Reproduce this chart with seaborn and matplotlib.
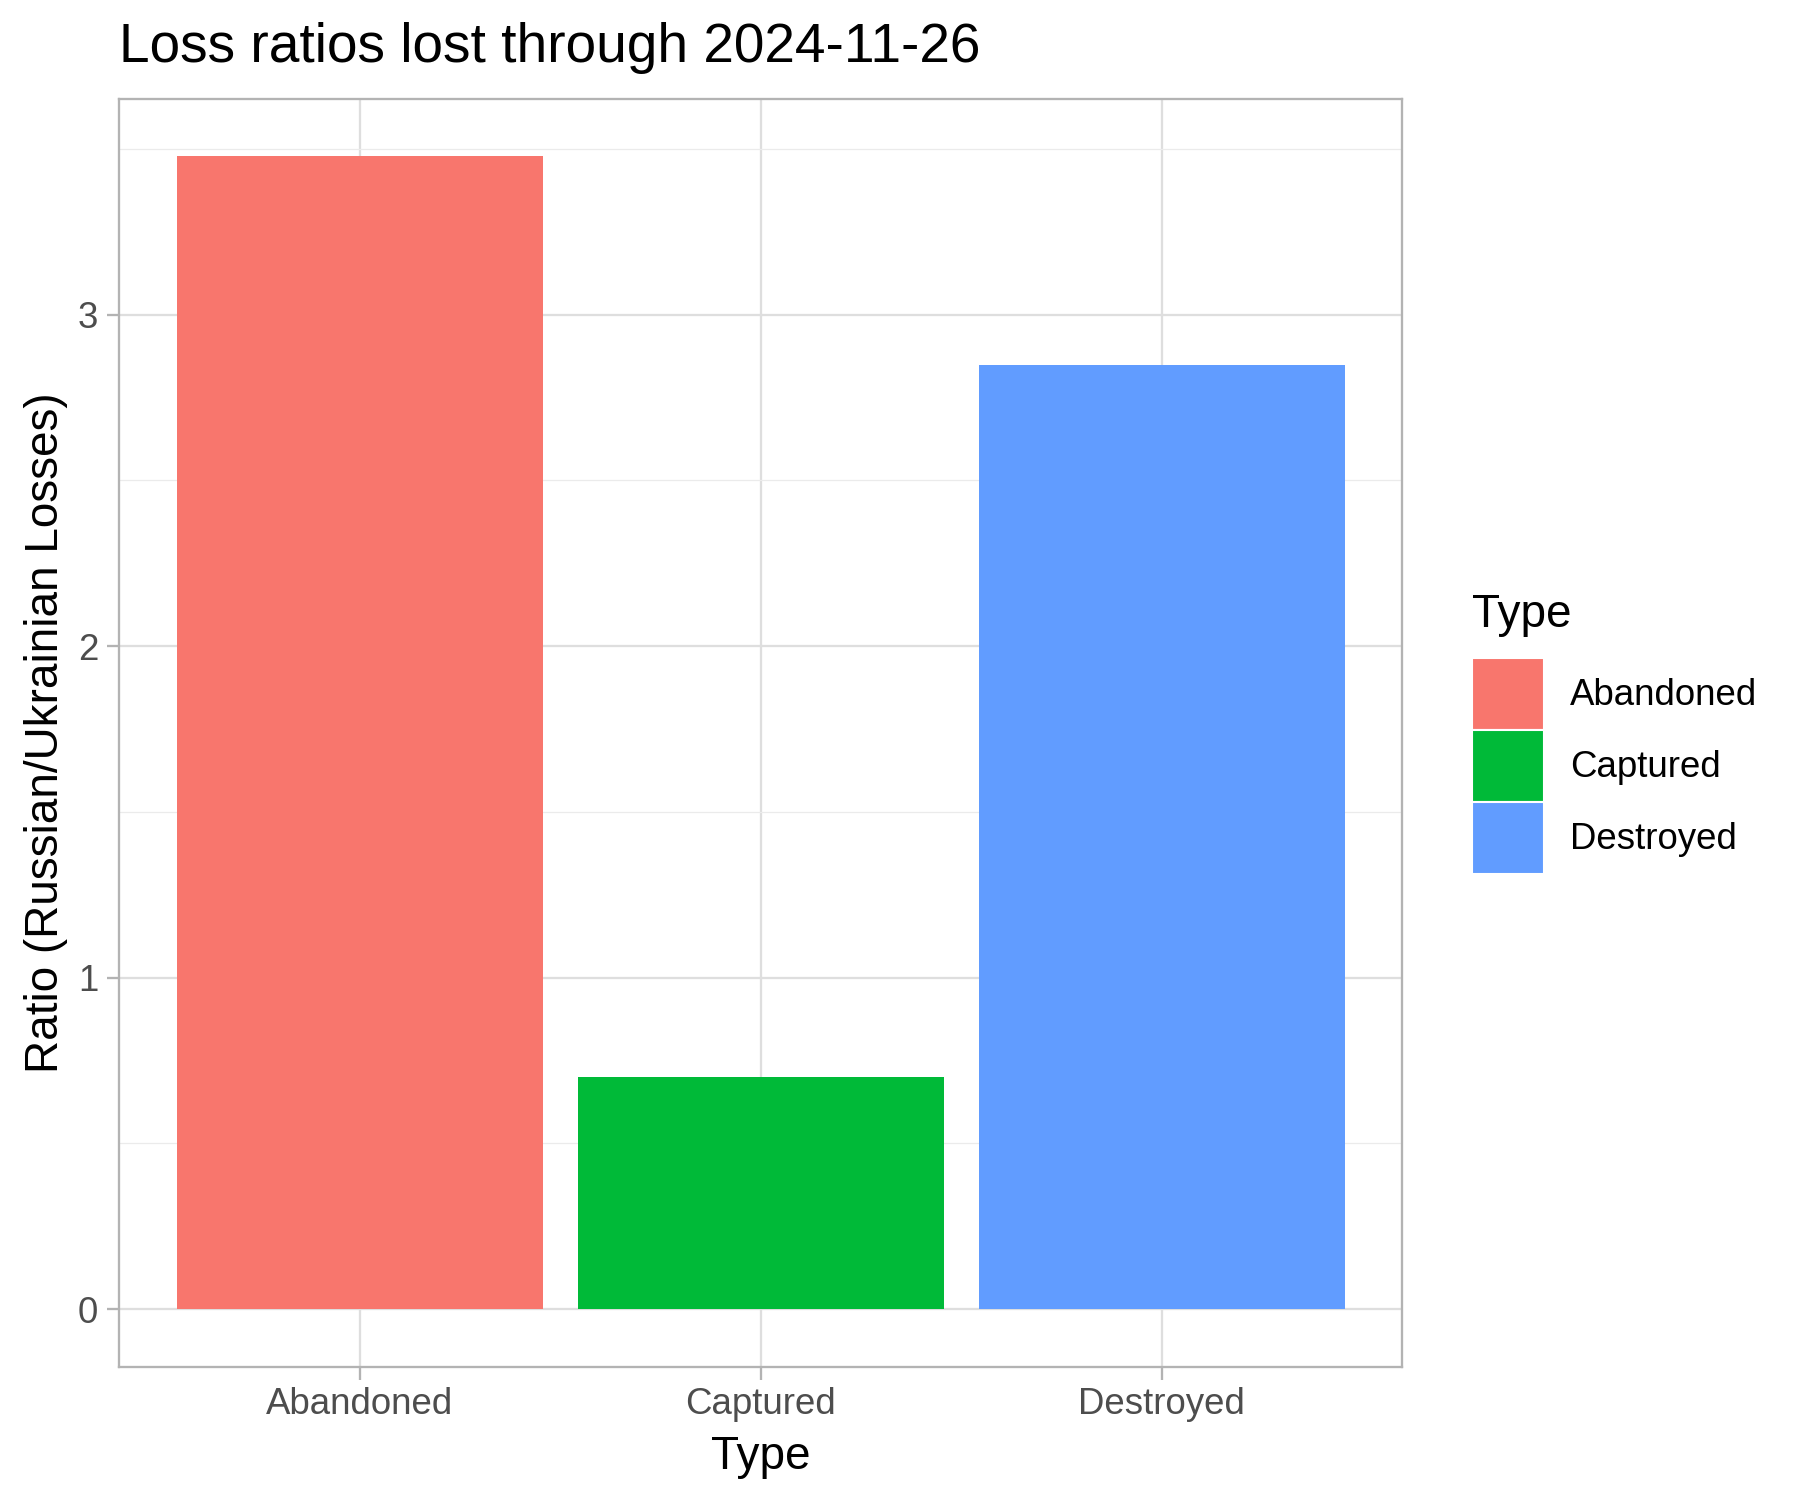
import pandas as pd
import matplotlib
matplotlib.use('Agg')
import matplotlib.pyplot as plt
import seaborn as sns

categories = ['Abandoned', 'Captured', 'Destroyed']
ratios = [3.478, 0.700, 2.847]
colors = ['#F8766D', '#00BA38', '#619CFF']
y_ticks = [0, 1, 2, 3]
y_minor = [0.5, 1.5, 2.5, 3.5]

df = pd.DataFrame({'Type': categories, 'Ratio': ratios})

sns.set_style('white')
plt.rcParams['font.family'] = ['Liberation Sans', 'DejaVu Sans']
plt.rcParams['text.color'] = 'black'
plt.rcParams['axes.labelcolor'] = 'black'

fig = plt.figure(figsize=(6, 5), dpi=300)
ax = fig.add_axes([0.0661, 0.0889, 0.713, 0.8453])

sns.barplot(data=df, x='Type', y='Ratio', hue='Type', order=categories,
            hue_order=categories, palette=colors, width=0.912,
            edgecolor='none', linewidth=0, saturation=1, legend=True, ax=ax, zorder=3)

ymax = max(ratios)
pad = ymax * 0.05
ax.set_ylim(-pad, ymax + pad)
ax.set_xlim(-0.6, 2.6)

ax.set_yticks(y_ticks)
ax.set_yticklabels([str(t) for t in y_ticks])
ax.set_yticks(y_minor, minor=True)
ax.grid(which='major', color='#DEDEDE', linewidth=0.55, zorder=0)
ax.grid(which='minor', axis='y', color='#EBEBEB', linewidth=0.3, zorder=0)
ax.set_axisbelow(True)

for s in ax.spines.values():
    s.set_visible(True)
    s.set_color('#B3B3B3')
    s.set_linewidth(0.55)

ax.tick_params(axis='both', which='major', length=3, width=0.55, color='#B3B3B3',
               labelsize=8.8, labelcolor='#4D4D4D', pad=2, left=True, bottom=True)
ax.tick_params(axis='y', which='minor', length=0)

ax.set_xlabel('Type', fontsize=11, labelpad=3)
ax.set_ylabel('Ratio (Russian/Ukrainian Losses)', fontsize=11, labelpad=2.4)
fig.text(0.0661, 0.951, 'Loss ratios lost through 2024-11-26', fontsize=13.2,
         ha='left', va='bottom')

handles, labels = ax.get_legend_handles_labels()
ax.legend_.remove()
leg = fig.legend(handles, labels, title='Type', loc='center left',
                 bbox_to_anchor=(0.8075, 0.511), frameon=False, fontsize=8.8,
                 title_fontsize=11, handlelength=1.96, handleheight=2.644,
                 labelspacing=0.0, handletextpad=0.72, borderpad=0)
leg._legend_box.align = 'left'
leg._legend_box.sep = 5
for p in leg.get_patches():
    p.set_edgecolor('white')
    p.set_linewidth(0.5)

fig.savefig('out.png', dpi=300)
